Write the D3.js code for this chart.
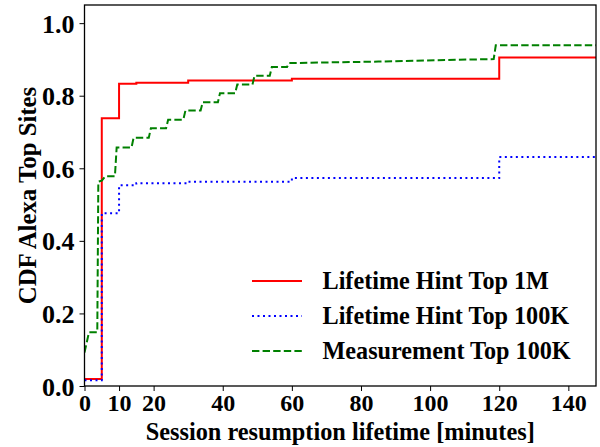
<!DOCTYPE html>
<html>
<head>
<meta charset="utf-8">
<script src="https://cdn.jsdelivr.net/npm/d3@7"></script>
<style>
  html, body { margin: 0; padding: 0; background: #fff; }
  svg { display: block; }
  text { font-family: "Liberation Serif", "Times New Roman", serif; font-weight: bold; fill: #000; }
</style>
</head>
<body>
<svg id="chart" width="600" height="447"></svg>
<script>
// ---- data ----
const seriesNames = ["Lifetime Hint Top 1M", "Lifetime Hint Top 100K", "Measurement Top 100K"];

// Lifetime Hint Top 1M (step CDF)
const hint1mMinutes = [0, 5, 10, 15, 30, 60, 120, 148];
const hint1mCdf     = [0.019, 0.738, 0.833, 0.836, 0.842, 0.847, 0.905, 0.905];

// Lifetime Hint Top 100K (step CDF)
const hint100kMinutes = [0, 5, 10, 15, 30, 60, 120, 148];
const hint100kCdf     = [0.016, 0.476, 0.553, 0.559, 0.563, 0.573, 0.631, 0.631];

// Measurement Top 100K (measured points, joined by lines)
const measMinutes = [0, 1.3, 3.7, 4.0, 5.0, 6.0, 8.8, 9.3, 13.6, 14.2, 18.6, 19.2, 23.6, 24.2, 28.6, 29.2,
                     33.6, 34.2, 38.6, 39.2, 43.6, 44.2, 48.6, 49.2, 53.6, 54.2, 58.6, 59.2, 85, 108, 118.4, 119.0, 148];
const measCdf     = [0.092, 0.148, 0.148, 0.563, 0.566, 0.578, 0.578, 0.657, 0.657, 0.684, 0.684, 0.710, 0.710, 0.734, 0.734, 0.759,
                     0.759, 0.782, 0.782, 0.807, 0.807, 0.831, 0.831, 0.855, 0.855, 0.879, 0.879, 0.890, 0.894, 0.899, 0.901, 0.939, 0.939];

const xTicks = [0, 10, 20, 40, 60, 80, 100, 120, 140];
const yTicks = [0.0, 0.2, 0.4, 0.6, 0.8, 1.0];
const xDomain = [0, 148];
const yDomain = [0, 1.05];
const xLabel = "Session resumption lifetime [minutes]";
const yLabel = "CDF Alexa Top Sites";

// ---- layout ----
const svg = d3.select("#chart");
const pL = 84.5, pR = 596, pT = 5, pB = 386;

const x = d3.scaleLinear().domain(xDomain).range([pL, pR]);
const y = d3.scaleLinear().domain(yDomain).range([pB, pT]);

svg.append("defs").append("clipPath").attr("id", "clip")
  .append("rect").attr("x", pL).attr("y", pT).attr("width", pR - pL).attr("height", pB - pT);

const series = [
  { name: seriesNames[0], xs: hint1mMinutes, ys: hint1mCdf, color: "#ff0000", dash: null, curve: d3.curveStepAfter },
  { name: seriesNames[1], xs: hint100kMinutes, ys: hint100kCdf, color: "#0000ff", dash: "2,3.5", curve: d3.curveStepAfter },
  { name: seriesNames[2], xs: measMinutes, ys: measCdf, color: "#008000", dash: "7.4,3.2", curve: d3.curveLinear }
];

const g = svg.append("g").attr("clip-path", "url(#clip)");
series.forEach(s => {
  const pts = s.xs.map((v, i) => [v, s.ys[i]]);
  const line = d3.line().x(d => x(d[0])).y(d => y(d[1])).curve(s.curve);
  g.append("path").attr("d", line(pts))
    .attr("fill", "none").attr("stroke", s.color).attr("stroke-width", 2)
    .attr("stroke-dasharray", s.dash);
});

// axes
const xAxis = d3.axisBottom(x).tickValues(xTicks).tickFormat(d3.format("d")).tickSize(5).tickPadding(1);
const yAxis = d3.axisLeft(y).tickValues(yTicks).tickFormat(d3.format(".1f")).tickSize(5).tickPadding(5);

const gx = svg.append("g").attr("transform", `translate(0,${pB})`).call(xAxis);
const gy = svg.append("g").attr("transform", `translate(${pL},0)`).call(yAxis);
[gx, gy].forEach(a => {
  a.select(".domain").remove();
  a.selectAll("line").attr("stroke", "#000").attr("stroke-width", 1);
  a.selectAll("text").style("font-family", "'Liberation Serif', serif").style("font-weight", "bold");
});
gx.selectAll("text").style("font-size", "24px").attr("dy", "0.8em");
gy.selectAll("text").style("font-size", "26px").attr("dy", "0.35em");

// frame
svg.append("rect").attr("x", pL).attr("y", pT).attr("width", pR - pL).attr("height", pB - pT)
  .attr("fill", "none").attr("stroke", "#000").attr("stroke-width", 1.3);

// axis labels
svg.append("text").attr("x", (pL + pR) / 2).attr("y", 440).attr("text-anchor", "middle")
  .style("font-size", "24.3px").text(xLabel);
svg.append("text").attr("transform", `translate(36,${(pT + pB) / 2}) rotate(-90)`).attr("text-anchor", "middle")
  .style("font-size", "24.8px").text(yLabel);

// legend
const legY = [281, 316, 351];
series.forEach((s, i) => {
  svg.append("line").attr("x1", 252).attr("x2", 302).attr("y1", legY[i]).attr("y2", legY[i])
    .attr("stroke", s.color).attr("stroke-width", 2).attr("stroke-dasharray", s.dash);
  svg.append("text").attr("x", 322.5).attr("y", legY[i]).attr("dy", "0.35em")
    .style("font-size", "24.2px").text(s.name);
});
</script>
</body>
</html>
